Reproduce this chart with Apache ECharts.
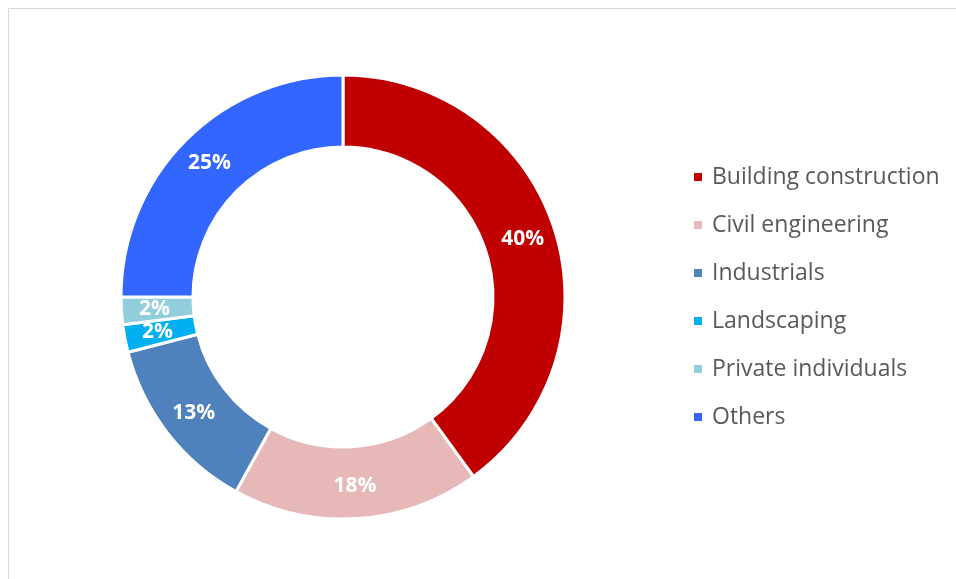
<!DOCTYPE html>
<html><head><meta charset="utf-8">
<script src="https://cdn.jsdelivr.net/npm/echarts@6/dist/echarts.min.js"></script>
<style>html,body{margin:0;padding:0;background:#fff}#c{width:956px;height:579px}</style>
</head><body><div id="c"></div>
<script>
const categories = ["Building construction","Civil engineering","Industrials","Landscaping","Private individuals","Others"];
const values = [40,18,13,2,2,25];
const colors = ["#C00000","#E6B9B8","#4F81BD","#00B0F0","#92CDDC","#3366FF"];
const chart = echarts.init(document.getElementById('c'));
chart.setOption({
  animation:false,
  graphic:[{type:'rect',shape:{x:8.5,y:8.5,width:960,height:600},style:{fill:'none',stroke:'#d9d9d9',lineWidth:1}}],
  legend:{
    orient:'vertical', left:692, top:165, padding:0, itemWidth:10, itemHeight:10, itemGap:24,
    icon:'rect',
    textStyle:{color:'#595959',fontSize:23,lineHeight:24,fontFamily:'Open Sans',padding:[0,0,0,4]},
    data:categories
  },
  series:[{
    type:'pie', center:[343,297], radius:[150,222], startAngle:90, clockwise:true,
    avoidLabelOverlap:false,
    itemStyle:{borderColor:'#fff',borderWidth:3},
    label:{show:true,position:'inside',formatter:'{c}%',color:'#fff',fontWeight:'bold',fontSize:21,fontFamily:'Open Sans'},
    labelLine:{show:false},
    data:categories.map((n,i)=>({name:n,value:values[i],itemStyle:{color:colors[i]}}))
  }]
});
</script></body></html>
